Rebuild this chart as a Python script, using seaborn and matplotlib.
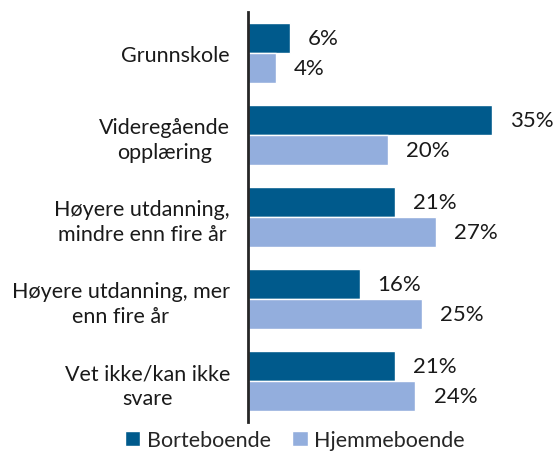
import pandas as pd
import numpy as np
import matplotlib
matplotlib.use("Agg")
import matplotlib.pyplot as plt
import seaborn as sns

# -----------------------------
# DATA
# -----------------------------
categories = [
    "Grunnskole",
    "Videregående\nopplæring",
    "Høyere utdanning,\nmindre enn fire år",
    "Høyere utdanning, mer\nenn fire år",
    "Vet ikke/kan ikke\nsvare",
]
series = ["Borteboende", "Hjemmeboende"]
borteboende = [6, 35, 21, 16, 21]
hjemmeboende = [4, 20, 27, 25, 24]

colors = ["#005A8C", "#93AEDD"]

df = pd.DataFrame({
    "kategori": categories * 2,
    "gruppe": [series[0]] * len(categories) + [series[1]] * len(categories),
    "andel": borteboende + hjemmeboende,
})

# -----------------------------
# PLOT
# -----------------------------
sns.set_style("white")
plt.rcParams["font.family"] = ["Lato", "DejaVu Sans"]

fig = plt.figure(figsize=(5.56, 4.52), dpi=100)
ax = fig.add_axes([0.446, 0.064, 0.524, 0.907])

sns.barplot(data=df, y="kategori", x="andel", hue="gruppe", orient="h",
            palette=colors, width=0.73, saturation=1, ax=ax, legend=True)

for cont in ax.containers:
    ax.bar_label(cont, labels=[f"{v:.0f}%" for v in cont.datavalues],
                 padding=13, fontsize=16, color="#1a1a1a")

ax.set_xlim(0, 41.75)
ax.set_ylim(4.5, -0.5)
ax.set_xlabel("")
ax.set_ylabel("")
ax.set_xticks([])
for side in ["top", "right", "bottom"]:
    ax.spines[side].set_visible(False)
ax.spines["left"].set_color("#262626")
ax.spines["left"].set_linewidth(2)
ax.tick_params(axis="y", length=0, pad=13, labelsize=15.5, labelcolor="#1a1a1a")
for lab in ax.get_yticklabels():
    lab.set_multialignment("center")
    lab.set_linespacing(1.3)

handles, labels = ax.get_legend_handles_labels()
ax.get_legend().remove()
fig.legend(handles, labels, loc="center", bbox_to_anchor=(295 / 556, 1 - 441 / 452),
           ncol=2, frameon=False, fontsize=15.5, handlelength=0.7, handleheight=0.7,
           handletextpad=0.3, columnspacing=1.0, borderaxespad=0)

fig.savefig("out.png", dpi=100)
